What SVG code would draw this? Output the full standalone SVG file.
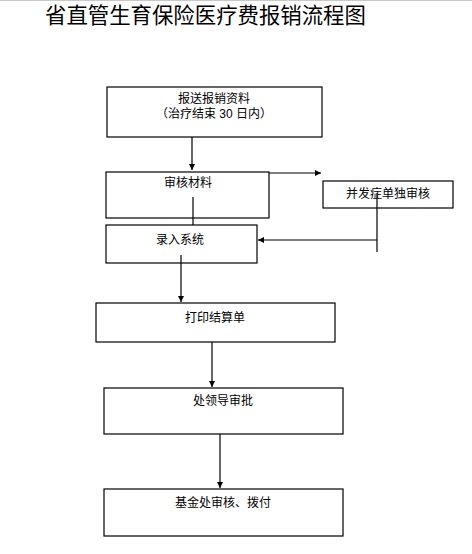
<svg xmlns="http://www.w3.org/2000/svg" width="472" height="554" viewBox="0 0 472 554">
<style>
.box{fill:#fff;stroke:#000;stroke-width:1.2}
.t{font-family:"Liberation Sans","Noto Sans CJK SC",sans-serif;font-size:12px;fill:#000;text-anchor:middle}
.title{font-family:"Liberation Sans","Noto Sans CJK SC",sans-serif;font-size:21.4px;fill:#000}
.c{stroke:#000;stroke-width:1.2;fill:none}
</style>
<defs>
<marker id="ah" markerUnits="userSpaceOnUse" markerWidth="7" markerHeight="7" viewBox="0 0 7 7" refX="6" refY="3.5" orient="auto">
<path d="M0,0.5 L6,3.5 L0,6.5 Z" fill="#000"/>
</marker>
</defs>
<rect width="472" height="554" fill="#fff"/>
<line x1="0" y1="0.5" x2="472" y2="0.5" stroke="#c8c8c8" stroke-width="1"/>
<text class="title" x="45" y="23">省直管生育保险医疗费报销流程图</text>
<g id="connectors">
<line class="c" x1="192" y1="137" x2="192" y2="170" marker-end="url(#ah)"/>
<line class="c" x1="269" y1="173" x2="321" y2="173" marker-end="url(#ah)"/>
<line class="c" x1="377" y1="193" x2="377" y2="252"/>
<line class="c" x1="377" y1="240" x2="258" y2="240" marker-end="url(#ah)"/>
<line class="c" x1="193" y1="197" x2="193" y2="225"/>
<line class="c" x1="181" y1="255" x2="181" y2="302" marker-end="url(#ah)"/>
<line class="c" x1="212" y1="342" x2="212" y2="387" marker-end="url(#ah)"/>
<line class="c" x1="220" y1="434" x2="220" y2="488" marker-end="url(#ah)"/>
</g>
<g id="n1">
<rect class="box" x="107" y="87" width="215" height="50"/>
<text class="t" x="214" y="103">报送报销资料</text>
<text class="t" x="214" y="118">（治疗结束 30 日内）</text>
</g>
<g id="n2">
<rect class="box" x="106" y="172" width="163" height="46" style="fill:none"/>
<text class="t" x="188" y="187">审核材料</text>
</g>
<g id="n3">
<rect class="box" x="323" y="181" width="130" height="27" style="fill:none"/>
<text class="t" x="388" y="198">并发症单独审核</text>
</g>
<g id="n4">
<rect class="box" x="106" y="225" width="151" height="38" style="fill:none"/>
<text class="t" x="180" y="244">录入系统</text>
</g>
<g id="n5">
<rect class="box" x="96" y="303" width="239" height="39"/>
<text class="t" x="215" y="322">打印结算单</text>
</g>
<g id="n6">
<rect class="box" x="104" y="388" width="239" height="46"/>
<text class="t" x="223" y="405">处领导审批</text>
</g>
<g id="n7">
<rect class="box" x="104" y="489" width="239" height="47"/>
<text class="t" x="223" y="507">基金处审核、拨付</text>
</g>
</svg>
